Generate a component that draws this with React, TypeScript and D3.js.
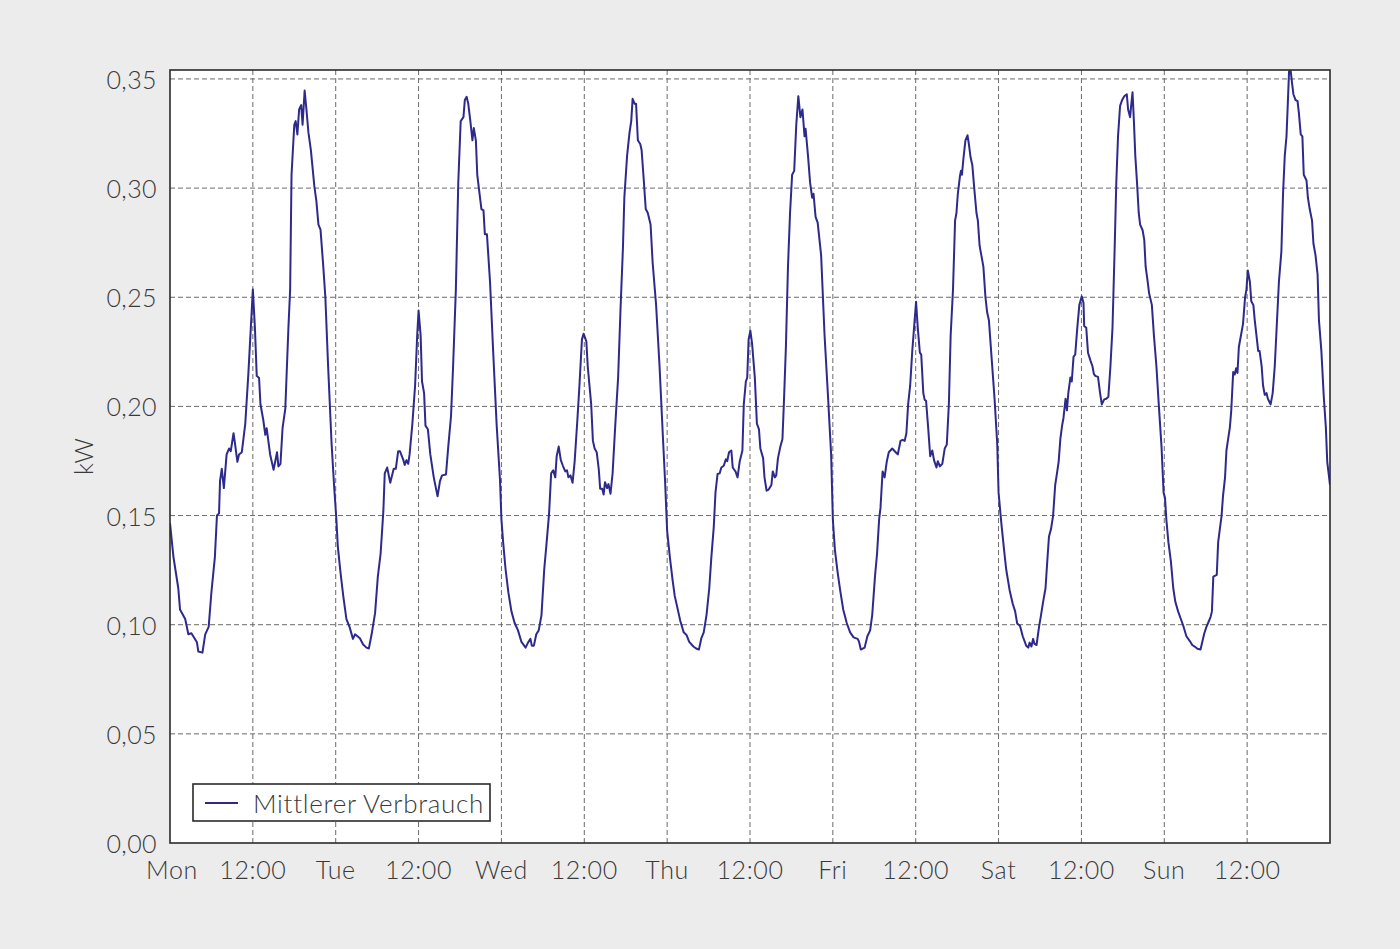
import React from "react";
import * as d3 from "d3";

// Time stamps are hours since the start of each day, values in kW
const monday: [number, number][] = [
  [0, 0.1465], [0.5, 0.131], [1.2, 0.1167], [1.45, 0.107], [2.2, 0.1026], [2.66, 0.0956], [3.1, 0.0961],
  [3.9, 0.092], [4.1, 0.0877], [4.7, 0.0872], [5.1, 0.0956], [5.6, 0.099], [6.0, 0.115], [6.5, 0.131],
  [6.8, 0.15], [7.1, 0.151], [7.25, 0.166], [7.5, 0.1714], [7.8, 0.1626], [8.2, 0.178], [8.55, 0.1807],
  [8.8, 0.1795], [9.2, 0.1877], [9.4, 0.1833], [9.76, 0.1746], [10.0, 0.178], [10.4, 0.179], [10.9, 0.192],
  [11.35, 0.215], [12.0, 0.2535], [12.3, 0.236], [12.56, 0.214], [12.9, 0.213], [13.1, 0.201], [13.5, 0.194],
  [13.8, 0.187], [14.0, 0.19], [14.5, 0.178], [15.0, 0.171], [15.5, 0.179], [15.7, 0.1725], [16.0, 0.1737],
  [16.3, 0.19], [16.7, 0.199], [17.15, 0.236], [17.4, 0.2535], [17.6, 0.306], [18.0, 0.329], [18.2, 0.3307],
  [18.45, 0.3246], [18.7, 0.336], [19.0, 0.338], [19.2, 0.329], [19.5, 0.3447], [19.76, 0.336], [20.05, 0.3254],
  [20.4, 0.3175], [20.9, 0.301], [21.2, 0.294], [21.5, 0.2833], [21.8, 0.281], [22.2, 0.264], [22.5, 0.25],
  [22.9, 0.2184], [23.4, 0.183], [23.8, 0.162],
];

const tuesday: [number, number][] = [
  [0.1, 0.148], [0.3, 0.136], [0.7, 0.1237], [1.1, 0.113], [1.55, 0.1026], [2.0, 0.099], [2.5, 0.0935],
  [2.8, 0.0956], [3.5, 0.0938], [3.97, 0.0909], [4.45, 0.0895], [4.8, 0.0891], [5.2, 0.0956], [5.7, 0.1053],
  [6.1, 0.122], [6.5, 0.1325], [6.9, 0.152], [7.1, 0.1693], [7.45, 0.172], [7.9, 0.165], [8.4, 0.1714],
  [8.7, 0.1714], [9.05, 0.1795], [9.3, 0.1795], [9.8, 0.1754], [10.0, 0.1732], [10.25, 0.1754], [10.5, 0.1737],
  [10.7, 0.178], [11.1, 0.192], [11.5, 0.2097], [11.8, 0.2325], [12.0, 0.2439], [12.3, 0.2325], [12.5, 0.2114],
  [12.8, 0.2061], [13.0, 0.1912], [13.35, 0.1895], [13.7, 0.178], [14.2, 0.1675], [14.75, 0.1588], [15.1, 0.1658],
  [15.4, 0.1684], [15.97, 0.1688], [16.3, 0.1816], [16.7, 0.1956], [17.0, 0.2184], [17.4, 0.2535], [17.75, 0.3026],
  [18.1, 0.3307], [18.5, 0.3325], [18.7, 0.3404], [18.96, 0.3418], [19.2, 0.3386], [19.5, 0.3307], [19.8, 0.3219],
  [20.0, 0.3275], [20.3, 0.3219], [20.5, 0.3061], [20.9, 0.2956], [21.1, 0.2904], [21.4, 0.2898], [21.6, 0.2789],
  [21.9, 0.2789], [22.35, 0.257], [22.8, 0.2254], [23.3, 0.192], [23.8, 0.1658],
];

const wednesday: [number, number][] = [
  [0.0, 0.1482], [0.25, 0.1377], [0.6, 0.1254], [1.0, 0.1149], [1.45, 0.1061], [1.9, 0.1009], [2.4, 0.0974],
  [2.9, 0.0921], [3.5, 0.0895], [3.85, 0.0918], [4.2, 0.0935], [4.4, 0.0904], [4.7, 0.0904], [5.05, 0.0956],
  [5.4, 0.0974], [5.8, 0.1044], [6.2, 0.1254], [6.5, 0.136], [6.9, 0.1509], [7.2, 0.1693], [7.5, 0.1707],
  [7.8, 0.1675], [8.0, 0.1772], [8.3, 0.1816], [8.6, 0.1754], [8.9, 0.1728], [9.25, 0.1702], [9.5, 0.1707],
  [9.7, 0.1675], [10.0, 0.1684], [10.3, 0.165], [10.6, 0.1746], [11.0, 0.1939], [11.3, 0.2097], [11.66, 0.2307],
  [11.9, 0.2333], [12.3, 0.2298], [12.5, 0.2184], [12.8, 0.2079], [13.0, 0.2009], [13.25, 0.1842], [13.5, 0.1807],
  [13.8, 0.179], [14.1, 0.1711], [14.3, 0.1623], [14.6, 0.1623], [14.8, 0.1596], [15.0, 0.1653], [15.3, 0.1626],
  [15.5, 0.1644], [15.8, 0.16], [16.1, 0.1693], [16.5, 0.1921], [16.9, 0.2132], [17.25, 0.2447], [17.6, 0.2728],
  [17.8, 0.2956], [18.2, 0.3149], [18.55, 0.3254], [18.8, 0.3307], [19.0, 0.3409], [19.3, 0.3386], [19.5, 0.3386],
  [19.76, 0.3219], [20.1, 0.3202], [20.3, 0.3175], [20.6, 0.3044], [20.9, 0.2904], [21.2, 0.2886], [21.6, 0.2833],
  [21.9, 0.2658], [22.4, 0.2465], [22.9, 0.2184], [23.4, 0.1851], [23.7, 0.1658],
];

const thursday: [number, number][] = [
  [0.0, 0.143], [0.4, 0.1307], [0.8, 0.1202], [1.1, 0.1132], [1.6, 0.1061], [1.9, 0.1018], [2.4, 0.0965],
  [2.8, 0.0953], [3.2, 0.0921], [3.8, 0.09], [4.2, 0.0891], [4.6, 0.0886], [4.96, 0.0939], [5.3, 0.0965],
  [5.7, 0.1044], [6.1, 0.1167], [6.4, 0.1307], [6.75, 0.1447], [7.0, 0.1605], [7.3, 0.169], [7.6, 0.1693],
  [7.85, 0.172], [8.2, 0.1728], [8.5, 0.1758], [8.7, 0.1749], [8.96, 0.179], [9.3, 0.1798], [9.5, 0.172],
  [9.9, 0.1702], [10.2, 0.1675], [10.5, 0.1746], [10.9, 0.1798], [11.1, 0.2009], [11.4, 0.2114], [11.6, 0.2132],
  [11.8, 0.2307], [12.05, 0.2347], [12.3, 0.2289], [12.7, 0.2132], [13.0, 0.1921], [13.3, 0.1895], [13.5, 0.1807],
  [13.9, 0.1763], [14.1, 0.1675], [14.4, 0.1614], [14.7, 0.1619], [15.1, 0.164], [15.3, 0.1702], [15.6, 0.1675],
  [15.8, 0.1684], [16.05, 0.1763], [16.4, 0.1816], [16.7, 0.1851], [16.9, 0.2009], [17.2, 0.2272], [17.5, 0.264],
  [17.8, 0.2886], [18.1, 0.3061], [18.4, 0.3079], [18.7, 0.3289], [19.0, 0.3421], [19.3, 0.3325], [19.6, 0.336],
  [19.9, 0.3237], [20.05, 0.3272], [20.4, 0.3149], [20.7, 0.3026], [21.0, 0.2956], [21.2, 0.2974], [21.5, 0.2868],
  [21.8, 0.2842], [22.3, 0.2693], [22.8, 0.2325], [23.3, 0.2044], [23.75, 0.178],
];

const friday: [number, number][] = [
  [0.0, 0.1482], [0.3, 0.1342], [0.7, 0.1237], [1.1, 0.1149], [1.5, 0.107], [2.0, 0.1009], [2.5, 0.0965],
  [3.0, 0.0942], [3.6, 0.0935], [3.8, 0.0921], [4.05, 0.0886], [4.6, 0.0895], [5.0, 0.0947], [5.4, 0.0974],
  [5.7, 0.1044], [6.1, 0.122], [6.4, 0.1325], [6.7, 0.1482], [6.9, 0.1535], [7.2, 0.1702], [7.5, 0.1675],
  [7.8, 0.1746], [8.1, 0.179], [8.6, 0.1807], [9.1, 0.179], [9.4, 0.178], [9.8, 0.1842], [10.1, 0.1847],
  [10.4, 0.1842], [10.65, 0.1877], [10.9, 0.2009], [11.2, 0.2097], [11.5, 0.2254], [11.8, 0.2377], [12.05, 0.2479],
  [12.3, 0.236], [12.6, 0.2246], [12.8, 0.2237], [13.1, 0.2061], [13.3, 0.203], [13.5, 0.2026], [13.8, 0.1904],
  [14.1, 0.1772], [14.4, 0.1798], [14.65, 0.1754], [15.0, 0.172], [15.2, 0.1749], [15.5, 0.1725], [15.85, 0.1737],
  [16.2, 0.1807], [16.5, 0.1825], [16.8, 0.2009], [17.06, 0.2325], [17.4, 0.2535], [17.7, 0.2851], [17.9, 0.2886],
  [18.1, 0.2974], [18.4, 0.3053], [18.55, 0.3079], [18.7, 0.3061], [18.9, 0.3132], [19.2, 0.3219], [19.5, 0.3242],
  [19.7, 0.3202], [19.95, 0.314], [20.2, 0.3105], [20.5, 0.2991], [20.8, 0.2886], [21.0, 0.2851], [21.25, 0.2737],
  [21.5, 0.2693], [21.8, 0.264], [22.1, 0.25], [22.35, 0.243], [22.6, 0.2395], [23.0, 0.2219], [23.4, 0.2044],
  [23.8, 0.1833],
];

const saturday: [number, number][] = [
  [0.0, 0.1605], [0.4, 0.1465], [0.8, 0.1342], [1.1, 0.1254], [1.6, 0.1158], [2.05, 0.1096], [2.4, 0.1061],
  [2.7, 0.1005], [3.1, 0.0995], [3.5, 0.0947], [4.0, 0.0904], [4.3, 0.0895], [4.5, 0.0918], [4.76, 0.09],
  [5.0, 0.0935], [5.2, 0.0912], [5.5, 0.0907], [5.86, 0.099], [6.1, 0.1035], [6.5, 0.1114], [6.8, 0.1167],
  [7.05, 0.1289], [7.3, 0.1404], [7.6, 0.1439], [7.9, 0.15], [8.2, 0.164], [8.5, 0.1702], [8.7, 0.1746],
  [8.95, 0.1851], [9.2, 0.1912], [9.4, 0.1947], [9.7, 0.2035], [9.9, 0.1982], [10.1, 0.2061], [10.4, 0.2132],
  [10.6, 0.2114], [10.86, 0.2228], [11.1, 0.2237], [11.4, 0.236], [11.7, 0.2465], [12.05, 0.2504], [12.3, 0.2474],
  [12.4, 0.2368], [12.7, 0.236], [12.95, 0.2246], [13.3, 0.2211], [13.6, 0.2184], [13.8, 0.2149], [14.0, 0.214],
  [14.4, 0.2135], [14.7, 0.2061], [14.95, 0.2009], [15.3, 0.2032], [15.6, 0.2035], [15.9, 0.2044], [16.2, 0.2184],
  [16.5, 0.236], [16.8, 0.271], [17.05, 0.3026], [17.3, 0.3237], [17.6, 0.3377], [17.9, 0.3404], [18.2, 0.3421],
  [18.57, 0.343], [18.76, 0.336], [19.05, 0.3325], [19.2, 0.3377], [19.4, 0.3439], [19.6, 0.3307], [19.8, 0.3149],
  [20.05, 0.3026], [20.3, 0.2886], [20.5, 0.2833], [20.86, 0.2807], [21.1, 0.2763], [21.3, 0.264], [21.6, 0.257],
  [21.8, 0.2518], [22.2, 0.2465], [22.5, 0.2325], [22.86, 0.2184], [23.2, 0.2009], [23.6, 0.1816], [23.9, 0.1605],
];

const sunday: [number, number][] = [
  [0.1, 0.1582], [0.3, 0.1482], [0.6, 0.1377], [0.96, 0.1289], [1.3, 0.1167], [1.6, 0.1105], [2.0, 0.1061],
  [2.4, 0.1026], [2.75, 0.0995], [3.2, 0.0947], [3.7, 0.0925], [4.05, 0.0907], [4.4, 0.09], [4.8, 0.089],
  [5.25, 0.0886], [5.5, 0.0921], [5.8, 0.0961], [6.1, 0.099], [6.36, 0.1009], [6.7, 0.1035], [6.9, 0.1061],
  [7.1, 0.122], [7.6, 0.1228], [7.8, 0.1377], [8.05, 0.1439], [8.3, 0.15], [8.5, 0.1588], [8.8, 0.1675],
  [9.0, 0.1798], [9.25, 0.1851], [9.5, 0.1904], [9.7, 0.1982], [9.98, 0.2158], [10.2, 0.2146], [10.4, 0.2175],
  [10.6, 0.2153], [10.8, 0.2272], [11.1, 0.2325], [11.4, 0.2377], [11.7, 0.25], [11.9, 0.2535], [12.1, 0.2623],
  [12.4, 0.257], [12.6, 0.2482], [12.9, 0.2465], [13.1, 0.2395], [13.35, 0.2325], [13.6, 0.2254], [13.8, 0.2254],
  [14.1, 0.2184], [14.3, 0.2097], [14.55, 0.2053], [14.8, 0.2061], [15.0, 0.2035], [15.4, 0.2009], [15.7, 0.2061],
  [16.0, 0.2184], [16.3, 0.2377], [16.6, 0.257], [16.96, 0.271], [17.2, 0.2974], [17.45, 0.3149], [17.7, 0.3237],
  [17.9, 0.3395], [18.07, 0.3535], [18.3, 0.3539], [18.5, 0.3482], [18.7, 0.343], [19.0, 0.3404], [19.3, 0.3398],
  [19.5, 0.3342], [19.76, 0.3246], [20.0, 0.3237], [20.2, 0.3061], [20.6, 0.3035], [20.8, 0.2956], [21.06, 0.2904],
  [21.4, 0.2851], [21.6, 0.2746], [21.9, 0.2693], [22.2, 0.2605], [22.4, 0.2395], [22.75, 0.2254], [23.1, 0.2044],
  [23.4, 0.1904], [23.6, 0.1746], [24.0, 0.164],
];

const days = [monday, tuesday, wednesday, thursday, friday, saturday, sunday];
const dayLabels = ["Mon", "Tue", "Wed", "Thu", "Fri", "Sat", "Sun"];
const yTicks = [0, 0.05, 0.1, 0.15, 0.2, 0.25, 0.3, 0.35];
const seriesName = "Mittlerer Verbrauch";
const yLabel = "kW";

const W = 1400;
const H = 949;
const M = { left: 170, right: 1330, top: 70, bottom: 843 };
const FONT = "Lato, 'Open Sans', sans-serif";
const TXT = "#3a3a3a";
const LINE = "#2e2a8c";

export default function App() {
  const x = d3.scaleLinear().domain([0, 168]).range([M.left, M.right]);
  const y = d3.scaleLinear().domain([0, 0.3541]).range([M.bottom, M.top]);

  const points: [number, number][] = [];
  days.forEach((d, i) => d.forEach(([h, v]) => points.push([i * 24 + h, v])));

  const line = d3
    .line<[number, number]>()
    .x((d) => x(d[0]))
    .y((d) => y(d[1]));

  const xTicks = d3.range(0, 168, 12);
  const fmt = (v: number) => v.toFixed(2).replace(".", ",");

  return (
    <div style={{ position: "absolute", left: 0, top: 0 }}>
      <svg width={W} height={H} style={{ display: "block" }}>
        <rect x={0} y={0} width={W} height={H} fill="#ececec" />
        <rect x={M.left} y={M.top} width={M.right - M.left} height={M.bottom - M.top} fill="#ffffff" />
        {yTicks
          .filter((t) => t > 0)
          .map((t) => (
            <line
              key={"gy" + t}
              x1={M.left}
              x2={M.right}
              y1={y(t)}
              y2={y(t)}
              stroke="#6a6a6a"
              strokeWidth={1}
              strokeDasharray="5,3"
            />
          ))}
        {xTicks
          .filter((t) => t > 0)
          .map((t) => (
            <line
              key={"gx" + t}
              x1={x(t)}
              x2={x(t)}
              y1={M.top}
              y2={M.bottom}
              stroke="#6a6a6a"
              strokeWidth={1}
              strokeDasharray="5,3"
            />
          ))}
        <defs>
          <clipPath id="plotclip">
            <rect x={M.left} y={M.top} width={M.right - M.left} height={M.bottom - M.top} />
          </clipPath>
        </defs>
        <path
          d={line(points) || ""}
          fill="none"
          stroke={LINE}
          strokeWidth={2}
          strokeLinejoin="round"
          clipPath="url(#plotclip)"
        />
        <rect
          x={M.left}
          y={M.top}
          width={M.right - M.left}
          height={M.bottom - M.top}
          fill="none"
          stroke="#2a2a2a"
          strokeWidth={1.6}
        />
        {yTicks.map((t) => (
          <text
            key={"ly" + t}
            x={157}
            y={y(t)}
            textAnchor="end"
            dominantBaseline="central"
            fontFamily={FONT}
            fontWeight={300}
            fontSize={25}
            letterSpacing={0.4}
            fill={TXT}
          >
            {fmt(t)}
          </text>
        ))}
        {xTicks.map((t) => (
          <text
            key={"lx" + t}
            x={t === 0 ? x(t) + 2 : x(t)}
            y={879}
            textAnchor="middle"
            fontFamily={FONT}
            fontWeight={300}
            fontSize={25}
            letterSpacing={0.6}
            fill={TXT}
          >
            {t % 24 === 0 ? dayLabels[t / 24] : "12:00"}
          </text>
        ))}
        <text
          transform={`translate(93,${(M.top + M.bottom) / 2}) rotate(-90)`}
          textAnchor="middle"
          fontFamily={FONT}
          fontWeight={300}
          fontSize={25}
          fill={TXT}
        >
          {yLabel}
        </text>
        <g>
          <rect x={193} y={784} width={297} height={37} fill="#ffffff" stroke="#2a2a2a" strokeWidth={1.6} />
          <line x1={205} x2={238} y1={803} y2={803} stroke={LINE} strokeWidth={2} />
          <text
            x={253}
            y={803}
            dominantBaseline="central"
            fontFamily={FONT}
            fontWeight={300}
            fontSize={26}
            letterSpacing={0.7}
            fill={TXT}
          >
            {seriesName}
          </text>
        </g>
      </svg>
    </div>
  );
}
